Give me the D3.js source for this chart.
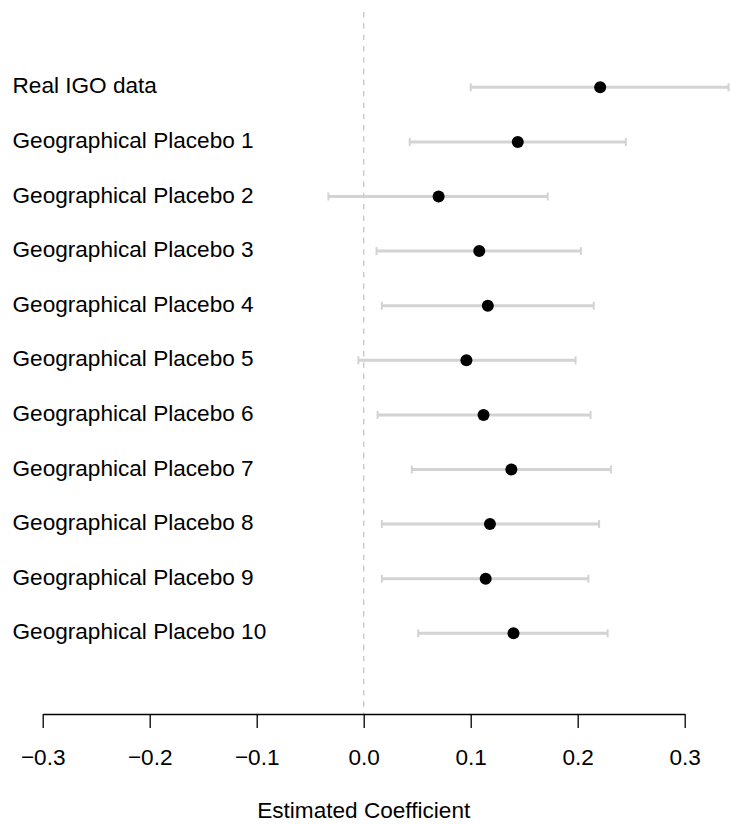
<!DOCTYPE html>
<html>
<head>
<meta charset="utf-8">
<script src="https://cdn.jsdelivr.net/npm/d3@7"></script>
<style>
  body { margin: 0; background: #fff; }
  text { font-family: "Liberation Sans", Arial, sans-serif; fill: #000; }
</style>
</head>
<body>
<div id="chart"></div>
<script>
/*------------------------------------------*/
/*            Data                          */
/*------------------------------------------*/

var labels = ["Real IGO data", "Geographical Placebo 1", "Geographical Placebo 2",
              "Geographical Placebo 3", "Geographical Placebo 4", "Geographical Placebo 5",
              "Geographical Placebo 6", "Geographical Placebo 7", "Geographical Placebo 8",
              "Geographical Placebo 9", "Geographical Placebo 10"];

var estimates = [0.221, 0.144, 0.070, 0.108, 0.116, 0.096, 0.112, 0.138, 0.118, 0.114, 0.140];
var lower     = [0.100, 0.043, -0.033, 0.012, 0.017, -0.005, 0.013, 0.045, 0.017, 0.017, 0.051];
var upper     = [0.341, 0.245, 0.172, 0.203, 0.215, 0.198, 0.212, 0.231, 0.220, 0.210, 0.228];

var xTicks = [-0.3, -0.2, -0.1, 0.0, 0.1, 0.2, 0.3];

/*------------------------------------------*/
/*            Constants                     */
/*------------------------------------------*/

var width = 730,
    height = 825,
    fontSize = 22.6,
    axisY = 714;

var rows = labels.map(function(d, i) {
  return {label: d, est: estimates[i], lo: lower[i], hi: upper[i]};
});

var svg = d3.select("#chart").append("svg")
    .attr("width", width)
    .attr("height", height);

var x = d3.scaleLinear()
    .domain([-0.3, 0.3])
    .range([42.7, 684.7]);

var y = d3.scalePoint()
    .domain(labels)
    .range([87.3, 633.3]);

/*------------------------------------------*/
/*            Zero reference line           */
/*------------------------------------------*/

svg.append("line")
    .attr("x1", x(0)).attr("x2", x(0))
    .attr("y1", 12).attr("y2", axisY)
    .attr("stroke", "#cccccc")
    .attr("stroke-width", 1.5)
    .attr("stroke-dasharray", "5.5,5.8");

/*------------------------------------------*/
/*            Error bars and points         */
/*------------------------------------------*/

var grey = "#d3d3d3";

var bars = svg.append("g").selectAll("g")
    .data(rows)
    .enter().append("g");

bars.append("line")
    .attr("x1", function(d) { return x(d.lo); })
    .attr("x2", function(d) { return x(d.hi); })
    .attr("y1", function(d) { return y(d.label); })
    .attr("y2", function(d) { return y(d.label); })
    .attr("stroke", grey)
    .attr("stroke-width", 3);

bars.selectAll("line.cap")
    .data(function(d) { return [{v: d.lo, l: d.label}, {v: d.hi, l: d.label}]; })
    .enter().append("line")
    .attr("class", "cap")
    .attr("x1", function(d) { return x(d.v); })
    .attr("x2", function(d) { return x(d.v); })
    .attr("y1", function(d) { return y(d.l) - 4; })
    .attr("y2", function(d) { return y(d.l) + 4; })
    .attr("stroke", grey)
    .attr("stroke-width", 2);

bars.append("circle")
    .attr("cx", function(d) { return x(d.est); })
    .attr("cy", function(d) { return y(d.label); })
    .attr("r", 6)
    .attr("fill", "#000");

/*------------------------------------------*/
/*            Row labels                    */
/*------------------------------------------*/

svg.append("g").selectAll("text")
    .data(rows)
    .enter().append("text")
    .attr("x", 12.5)
    .attr("y", function(d) { return y(d.label) + 6; })
    .attr("font-size", fontSize + "px")
    .text(function(d) { return d.label; });

/*------------------------------------------*/
/*            X axis                        */
/*------------------------------------------*/

var axis = svg.append("g")
    .attr("transform", "translate(0," + axisY + ")")
    .call(d3.axisBottom(x)
      .tickValues(xTicks)
      .tickSize(14)
      .tickSizeOuter(0)
      .tickPadding(0)
      .tickFormat(function(d) { return d3.format(".1f")(d).replace("-", "\u2212"); }));

axis.select(".domain")
    .attr("stroke", "#000")
    .attr("stroke-width", 1.3);

axis.selectAll(".tick line")
    .attr("stroke", "#000")
    .attr("stroke-width", 1.3);

axis.selectAll(".tick text")
    .attr("y", 51)
    .attr("dy", null)
    .attr("font-size", fontSize + "px")
    .attr("font-family", "Liberation Sans, Arial, sans-serif")
    .attr("fill", "#000");

svg.append("text")
    .attr("x", x(0))
    .attr("y", 817.7)
    .attr("text-anchor", "middle")
    .attr("font-size", fontSize + "px")
    .text("Estimated Coefficient");
</script>
</body>
</html>
